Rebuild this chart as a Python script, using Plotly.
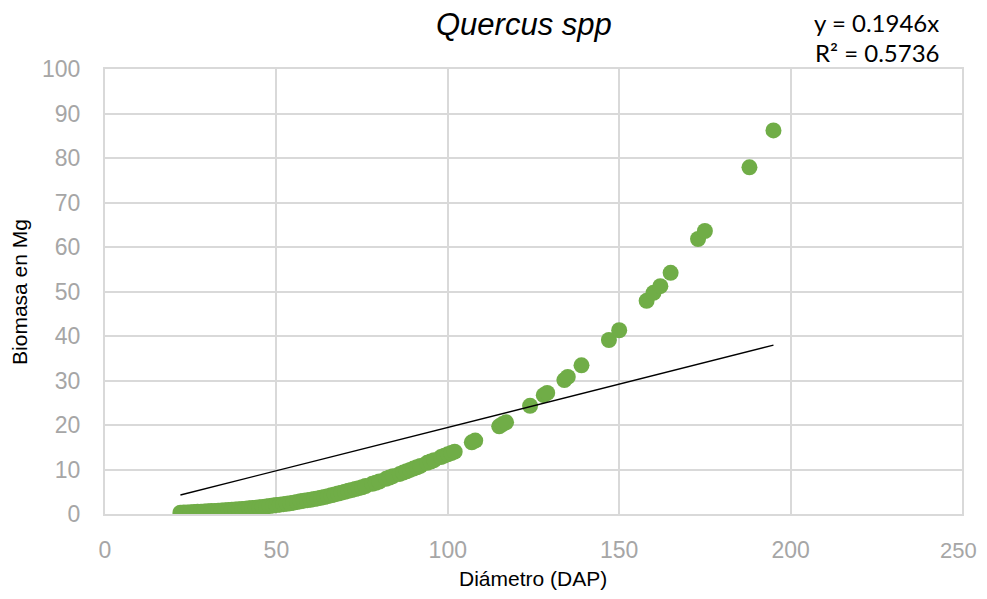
import plotly.graph_objects as go

# Diámetro (DAP) and Biomasa (Mg)
dap = [22, 23, 24, 25, 26, 27, 28, 29, 30, 31, 32, 33, 34, 35, 36, 37, 38, 39, 40,
       41, 42, 43, 44, 45, 46, 47, 48, 49, 50, 51, 52, 53, 54, 55, 56, 57, 58, 59, 60,
       61, 62, 63, 64, 65, 66, 67, 68, 69, 70, 71, 72, 73, 74, 75, 76, 78, 79, 80,
       82, 83, 84, 86, 87, 88, 89, 90, 91, 92, 94, 95, 96, 98, 99, 100, 101, 102,
       107, 108, 115, 116, 117, 124, 128, 129, 134, 135, 139, 147, 150,
       158, 160, 162, 165, 173, 175, 188, 195]
biomasa = [0.3, 0.32, 0.36, 0.4, 0.45, 0.5, 0.52, 0.55, 0.6, 0.65, 0.7, 0.75, 0.8, 0.85, 0.9, 0.95, 1.0, 1.05, 1.1,
           1.2, 1.3, 1.35, 1.4, 1.5, 1.6, 1.7, 1.8, 1.9, 2.0, 2.1, 2.2, 2.3, 2.4, 2.55, 2.7, 2.85, 3.0, 3.1, 3.2,
           3.35, 3.5, 3.65, 3.8, 4.0, 4.2, 4.4, 4.6, 4.8, 5.0, 5.2, 5.4, 5.6, 5.8, 6.0, 6.3, 6.8, 7.0, 7.3,
           7.9, 8.2, 8.5, 9.0, 9.3, 9.6, 9.9, 10.2, 10.5, 10.8, 11.5, 11.8, 12.1, 12.8, 13.1, 13.4, 13.7, 14.0,
           16.1, 16.5, 19.7, 20.2, 20.6, 24.3, 26.7, 27.2, 30.1, 30.8, 33.4, 39.1, 41.3,
           47.9, 49.7, 51.2, 54.2, 61.8, 63.6, 77.9, 86.2]

trend_slope = 0.1946
trend_x = [min(dap), max(dap)]
trend_y = [trend_slope * v for v in trend_x]

x_ticks = [0, 50, 100, 150, 200, 250]
y_ticks = [0, 10, 20, 30, 40, 50, 60, 70, 80, 90, 100]

fig = go.Figure()
fig.add_trace(go.Scatter(x=dap, y=biomasa, mode="markers",
                         marker=dict(size=16, color="#70ad47", line=dict(width=0)),
                         showlegend=False, hoverinfo="skip"))
fig.add_trace(go.Scatter(x=trend_x, y=trend_y, mode="lines",
                         line=dict(color="black", width=1.4),
                         showlegend=False, hoverinfo="skip"))

grid = "#d9d9d9"
tickfont = dict(family="Liberation Sans, Arial", size=23, color="#a6a6a6")
labfont = dict(family="Liberation Sans, Arial", size=21, color="black")
eqfont = dict(family="Lato, Open Sans, sans-serif", size=24, color="black")

# the last x tick label sits at the figure's right edge; it is drawn as an
# annotation so that plotly does not drop it
x_ticktext = [str(v) for v in x_ticks[:-1]] + [""]

# page body has an 8px margin, so the figure is sized to fit the 987x599 window
fig.update_layout(
    width=971, height=583,
    margin=dict(l=97, r=17, t=61, b=77),
    paper_bgcolor="white", plot_bgcolor="white",
    xaxis=dict(range=[0, 250], tickvals=x_ticks, ticktext=x_ticktext, showgrid=True, gridcolor=grid, gridwidth=2,
               zeroline=False, showline=True, linecolor=grid, linewidth=2, mirror=True,
               tickfont=tickfont, ticklabelstandoff=14),
    yaxis=dict(range=[0, 100], tickvals=y_ticks, showgrid=True, gridcolor=grid, gridwidth=2,
               zeroline=False, showline=True, linecolor=grid, linewidth=2, mirror=True,
               tickfont=tickfont, ticklabelstandoff=18),
    annotations=[
        dict(text=str(x_ticks[-1]), xref="x", yref="paper", x=x_ticks[-1], y=-0.0809, xshift=-4,
             xanchor="center", yanchor="middle", showarrow=False,
             font=dict(family="Liberation Sans, Arial", size=22, color="#a6a6a6")),
        dict(text="<i>Quercus spp</i>", xref="paper", yref="paper", x=0.489, y=1.101,
             xanchor="center", yanchor="middle", showarrow=False,
             font=dict(family="Liberation Sans, Arial", size=31, color="black")),
        dict(text="y = 0.1946x", xref="paper", yref="paper", x=0.900, y=1.1056, xanchor="center", yanchor="middle",
             showarrow=False, font=eqfont),
        dict(text="R² = 0.5736", xref="paper", yref="paper", x=0.901, y=1.038, xanchor="center", yanchor="middle",
             showarrow=False, font=eqfont),
        dict(text="Biomasa en Mg", xref="paper", yref="paper", x=-0.0992, y=0.499, textangle=-90,
             xanchor="center", yanchor="middle", showarrow=False, font=labfont),
        dict(text="Diámetro (DAP)", xref="paper", yref="paper", x=0.4994, y=-0.146,
             xanchor="center", yanchor="middle", showarrow=False, font=labfont),
    ],
)

fig.write_html("out.html", config={"displayModeBar": False})
